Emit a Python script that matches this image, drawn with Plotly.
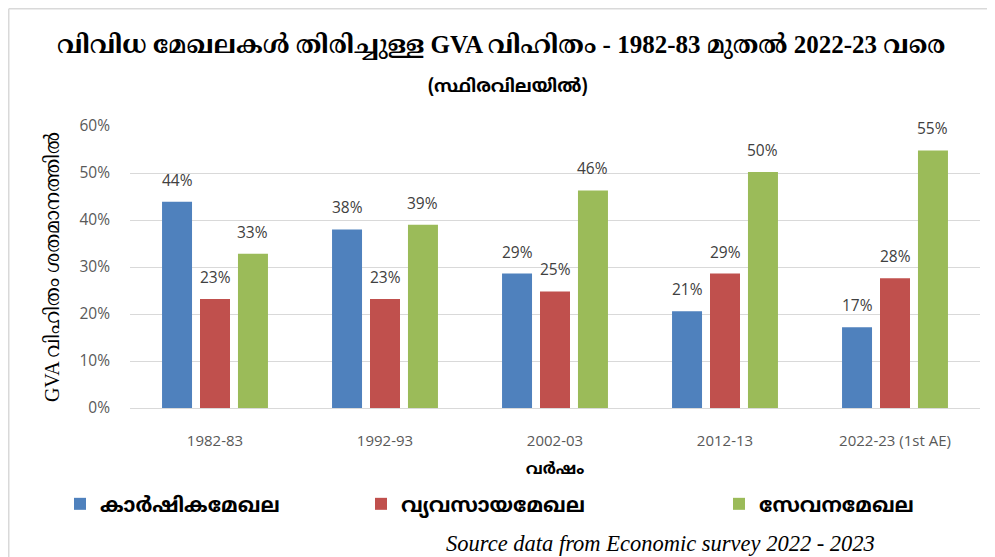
import plotly.graph_objects as go

# ---- data ----
years = ["1982-83", "1992-93", "2002-03", "2012-13", "2022-23 (1st AE)"]
agriculture = [43.9, 38.0, 28.6, 20.6, 17.2]
industry = [23.2, 23.2, 24.8, 28.6, 27.6]
services = [32.8, 39.0, 46.3, 50.2, 54.8]
series_names = ["കാർഷികമേഖല", "വ്യവസായമേഖല", "സേവനമേഖല"]
y_ticks = [0, 10, 20, 30, 40, 50, 60]
y_tick_labels = ["0%", "10%", "20%", "30%", "40%", "50%", "60%"]

title_text = "വിവിധ മേഖലകൾ തിരിച്ചുള്ള GVA വിഹിതം - 1982-83 മുതൽ 2022-23 വരെ"
subtitle_text = "(സ്ഥിരവിലയിൽ)"
y_title = "GVA വിഹിതം ശതമാനത്തിൽ"
x_title = "വർഷം"
source_text = "Source data from Economic survey 2022 - 2023"

colors = ["#4F81BD", "#C0504D", "#9BBB59"]

# ---- layout geometry ----
# The page body has an 8px margin, so the figure is drawn 8px in from the
# window's top-left corner; positions below are given in window pixels.
OFF = 8
W, H = 987, 549
ML, MT = 122, 118           # plot area starts at window (130, 126)
PW, PH = 850, 282
MR, MB = W - ML - PW, H - MT - PH


def px_x(px):
    return (px - OFF - ML) / PW


def px_y(py):
    return (MT + PH - (py - OFF)) / PH


ML_FONT = "Noto Sans Malayalam, Noto Sans, Lato, DejaVu Sans, sans-serif"
SERIF = "Liberation Serif, Noto Serif Malayalam, Noto Sans Malayalam, serif"
NUM_FONT = "Open Sans, Lato, sans-serif"

fig = go.Figure()
all_vals = [agriculture, industry, services]
legend_ids = ["legend", "legend2", "legend3"]
for name, vals, col, lg in zip(series_names, all_vals, colors, legend_ids):
    fig.add_trace(go.Bar(
        x=years, y=vals, name=name, marker_color=col,
        marker_line_width=0, legend=lg, hoverinfo="x+y+name",
    ))

# data labels as annotations above bars
cat_w = PW / len(years)
bargap = 0.33
slot = cat_w * (1 - bargap) / 3
for i, vals in enumerate(all_vals):
    shift = (i - 1) * slot
    for yr, v in zip(years, vals):
        fig.add_annotation(
            x=yr, y=v, xref="x", yref="y", text=f"{round(v):d}%",
            showarrow=False, xshift=shift, yshift=9, yanchor="bottom",
            font=dict(family=NUM_FONT, size=15.5, color="#404040"),
        )

# title + subtitle
fig.add_annotation(x=px_x(501), y=px_y(45), xref="paper", yref="paper",
                   xanchor="center", yanchor="middle",
                   text=f"<b>{title_text}</b>", showarrow=False,
                   font=dict(family=SERIF, size=25, color="#000000"))
fig.add_annotation(x=px_x(508), y=px_y(88), xref="paper", yref="paper",
                   xanchor="center", yanchor="middle",
                   text=f"<b>{subtitle_text}</b>", showarrow=False,
                   font=dict(family=ML_FONT, size=18, color="#000000"))
# source
fig.add_annotation(x=px_x(660), y=px_y(543), xref="paper", yref="paper",
                   xanchor="center", yanchor="middle",
                   text=f"<i>{source_text}</i>", showarrow=False,
                   font=dict(family="Liberation Serif, serif", size=22.5, color="#000000"))

# frame lines (top, left)
fig.add_shape(type="line", xref="paper", yref="paper",
              x0=px_x(OFF + 0.75), x1=px_x(OFF + W), y0=px_y(OFF + 0.75), y1=px_y(OFF + 0.75),
              line=dict(color="#D9D9D9", width=1.5))
fig.add_shape(type="line", xref="paper", yref="paper",
              x0=px_x(OFF + 0.75), x1=px_x(OFF + 0.75), y0=px_y(OFF + 0.75), y1=px_y(OFF + H),
              line=dict(color="#D9D9D9", width=1.5))

legend_font = dict(family=ML_FONT, size=20.5, color="#000000", weight="bold")
leg_common = dict(orientation="h", yanchor="middle", xanchor="left",
                  bgcolor="rgba(0,0,0,0)", itemwidth=30, font=legend_font)

fig.update_layout(
    width=W, height=H,
    margin=dict(l=ML, r=MR, t=MT, b=MB, autoexpand=False),
    paper_bgcolor="white", plot_bgcolor="white",
    barmode="group", bargap=bargap, bargroupgap=0.21,
    showlegend=True,
    legend=dict(x=px_x(60), y=px_y(504), **leg_common),
    legend2=dict(x=px_x(361), y=px_y(504), **leg_common),
    legend3=dict(x=px_x(719), y=px_y(504), **leg_common),
    xaxis=dict(
        type="category", categoryorder="array", categoryarray=years,
        showgrid=False, showline=False, ticks="", ticklabelstandoff=22,
        tickfont=dict(family=NUM_FONT, size=15, color="#595959"),
        title=dict(text=f"<b>{x_title}</b>", standoff=13,
                   font=dict(family=ML_FONT, size=16, color="#000000")),
    ),
    yaxis=dict(
        range=[0, 60], tickvals=y_ticks, ticktext=y_tick_labels,
        showgrid=True, gridcolor="#D9D9D9", gridwidth=1.3,
        zeroline=True, zerolinecolor="#D9D9D9", zerolinewidth=1.3,
        showline=False, ticks="", ticklabelstandoff=19,
        tickfont=dict(family=NUM_FONT, size=15.5, color="#595959"),
        title=dict(text=y_title, standoff=14,
                   font=dict(family=SERIF, size=20, color="#000000")),
    ),
)

fig.write_html("out.html")
